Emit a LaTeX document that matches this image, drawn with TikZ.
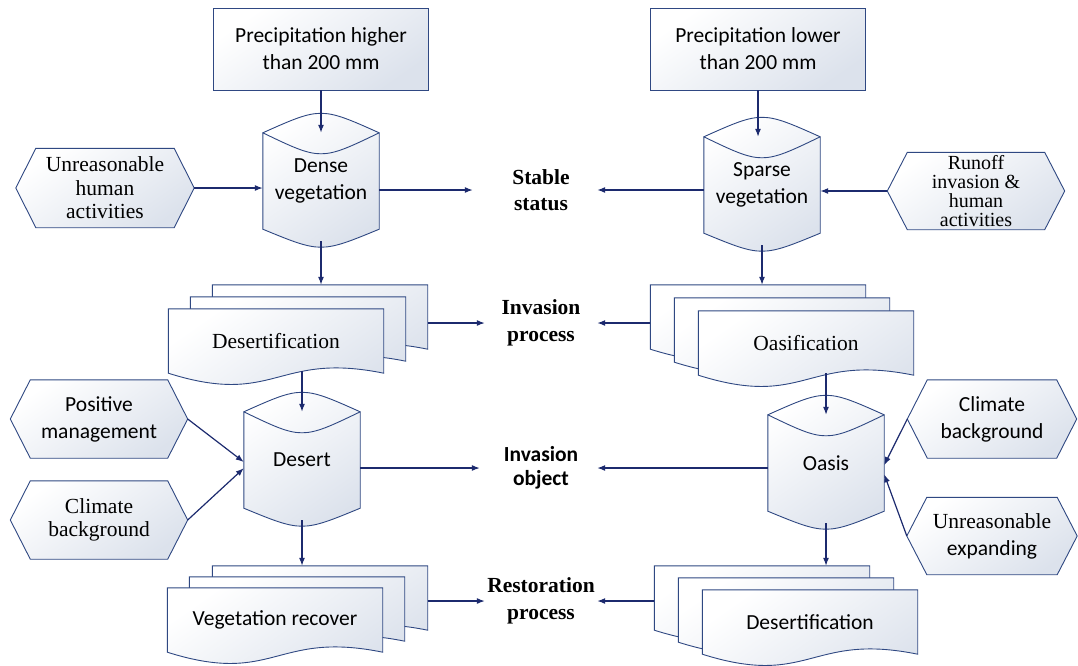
\documentclass[tikz,border=0pt]{standalone}
\usepackage{fontspec}
\setmainfont{Carlito}
\newfontfamily\tnr{Liberation Serif}
\usetikzlibrary{calc, arrows.meta, backgrounds}
\usepackage{xcolor}

\definecolor{edgeblue}{RGB}{47,72,130}
\definecolor{arrowblue}{RGB}{28,42,110}
\definecolor{fillgray}{RGB}{220,226,236}

\tikzset{
	shp/.style={draw=edgeblue, line width=0.9pt, top color=white, bottom color=fillgray, shading angle=35},
	box/.style={inner sep=0pt, align=center, font=\fontsize{21.5}{27}\selectfont},
	tnrbox/.style={box, font=\tnr\fontsize{21.5}{23.5}\selectfont},
	docbox/.style={minimum width=215pt, minimum height=64pt},
	cylbox/.style={minimum width=116pt, minimum height=96pt},
	tagtext/.style={minimum width=112pt, inner sep=0pt, align=center},
	arr/.style={draw=arrowblue, line width=1.2pt, -{Latex[length=8pt,width=6pt]}}
}

% shapes drawn behind the named nodes
\newcommand{\hexshape}[1]{\path[shp] (#1.west) -- ($(#1.north west)+(20,0)$) -- ($(#1.north east)+(-20,0)$) -- (#1.east) -- ($(#1.south east)+(-20,0)$) -- ($(#1.south west)+(20,0)$) -- cycle;}
\newcommand{\cylshape}[1]{\path[shp] (#1.north west) .. controls ($(#1.north)+(0,-26)$) .. (#1.north east) -- (#1.south east) .. controls ($(#1.south)+(0,24)$) .. (#1.south west) -- cycle;
	\draw[edgeblue, line width=0.9pt] (#1.north west) .. controls ($(#1.north)+(0,28)$) .. (#1.north east);}
\newcommand{\docshape}[1]{\path[shp] (#1.north west) -- (#1.north east) -- (#1.south east) .. controls ($(#1.south)+(0,-22)$) and ($(#1.south)+(0,34)$) .. (#1.south west) -- cycle;}

\begin{document}
\begin{tikzpicture}[x=1pt, y=-1pt]
	\useasboundingbox (0,0) rectangle (1078,665);
	
	% top row
	\node[box, shp, minimum width=215pt, minimum height=82pt] (prechi) at (321,49) {Precipitation higher\\than 200 mm};
	\node[box, shp, minimum width=215pt, minimum height=82pt] (preclo) at (758,49) {Precipitation lower\\than 200 mm};
	\node[box, cylbox] (dense) at (321,181) {Dense\\vegetation};
	\node[box, cylbox] (sparse) at (762,185) {Sparse\\vegetation};
	\node[tnrbox, minimum width=178pt, minimum height=79pt] (hua) at (105,188) {Unreasonable\\human\\activities};
	\node[tnrbox, font=\tnr\fontsize{20}{19}\selectfont, minimum width=177pt, minimum height=77pt] (runoff) at (976,191) {Runoff\\invasion \&\\human\\activities};
	\node[tagtext, font=\tnr\bfseries\fontsize{21.5}{26.5}\selectfont] (stable) at (541,190) {Stable\\status};
	
	% invasion process
	\node[box, docbox] (dl1) at (320,317) {};
	\node[box, docbox] (dl2) at (298,329) {};
	\node[tnrbox, docbox] (dl3) at (276,341) {Desertification};
	\node[box, docbox] (do1) at (758,317) {};
	\node[box, docbox] (do2) at (782,330) {};
	\node[tnrbox, docbox] (do3) at (806,343) {Oasification};
	\node[tagtext, font=\tnr\bfseries\fontsize{21.5}{26.5}\selectfont] (invproc) at (541,323) {Invasion\\process};
	
	% invasion object
	\node[box, cylbox] (desert) at (302,460) {Desert};
	\node[box, cylbox] (oasis) at (826,463) {Oasis};
	\node[box, minimum width=177pt, minimum height=78pt] (pm) at (99,419) {Positive\\management};
	\node[tnrbox, minimum width=177pt, minimum height=78pt] (climl) at (99,520) {Climate\\background};
	\node[box, minimum width=169pt, minimum height=78pt] (climr) at (992,419) {Climate\\background};
	\node[box, minimum width=170pt, minimum height=77pt] (unexp) at (992,536) {{\tnr Unreasonable}\\expanding};
	\node[tagtext, font=\bfseries\fontsize{21.5}{24}\selectfont] (invobj) at (541,468) {Invasion\\object};
	
	% restoration process
	\node[box, docbox] (vl1) at (320,598) {};
	\node[box, docbox] (vl2) at (297,609) {};
	\node[box, docbox] (vl3) at (275,620) {Vegetation recover};
	\node[box, docbox] (dr1) at (762,598) {};
	\node[box, docbox] (dr2) at (786,610) {};
	\node[box, docbox] (dr3) at (810,622) {Desertification};
	\node[tagtext, font=\tnr\bfseries\fontsize{21.5}{26.5}\selectfont] (restproc) at (541,601) {Restoration\\process};
	
	\begin{scope}[on background layer]
		\foreach \n in {hua,runoff,pm,climl,climr,unexp} {\hexshape{\n}}
		\foreach \n in {dense,sparse,desert,oasis} {\cylshape{\n}}
		\foreach \n in {dl1,dl2,dl3,do1,do2,do3,vl1,vl2,vl3,dr1,dr2,dr3} {\docshape{\n}}
	\end{scope}
	
	\draw[arr] (prechi.south) -- (prechi.south |- dense.north);
	\draw[arr] (preclo.south) -- (preclo.south |- sparse.north);
	\draw[arr] (hua.east) -- (hua.east -| dense.west);
	\draw[arr] (runoff.west) -- (runoff.west -| sparse.east);
	\draw[arr, shorten >=12pt] (dense.east |- stable) -- (stable.west);
	\draw[arr] (sparse.west |- stable) -- (stable.east);
	\draw[arr, shorten <=12pt] (dense.south) -- (dense.south |- dl1.north);
	\draw[arr, shorten <=12pt] (sparse.south) -- (sparse.south |- do1.north);
	\draw[arr] (dl1.east |- invproc) -- (invproc.west);
	\draw[arr] (do1.west |- invproc) -- (invproc.east);
	\draw[arr, shorten <=-2pt] (desert.north |- dl3.south) -- (desert.north);
	\draw[arr, shorten <=-2pt] (oasis.north |- do3.south) -- (oasis.north);
	\draw[arr] (pm.east) -- (desert.182);
	\draw[arr] (climl.east) -- (desert.188);
	\draw[arr] (climr.west) -- (oasis.-2);
	\draw[arr] (unexp.west) -- (oasis.-11);
	\draw[arr, shorten >=5pt] (desert.east |- invobj) -- (invobj.west);
	\draw[arr] (oasis.west |- invobj) -- (invobj.east);
	\draw[arr, shorten <=12pt] (desert.south) -- (desert.south |- vl1.north);
	\draw[arr, shorten <=12pt] (oasis.south) -- (oasis.south |- dr1.north);
	\draw[arr] (vl1.east |- restproc) -- (restproc.west);
	\draw[arr] (dr1.west |- restproc) -- (restproc.east);
\end{tikzpicture}
\end{document}
